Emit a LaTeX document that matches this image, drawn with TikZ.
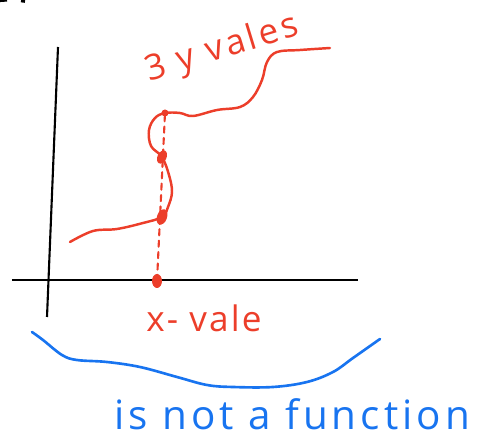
\documentclass[tikz,border=0pt]{standalone}
\usepackage{fontspec}
\setmainfont{Open Sans}
\usepackage{tikz}
\usetikzlibrary{calc,positioning}
\definecolor{redInk}{RGB}{236,62,42}
\definecolor{blueInk}{RGB}{24,116,240}
\tikzset{
  penRed/.style={redInk, line width=1.4pt, line cap=round, line join=round},
  penBlue/.style={blueInk, line width=1.5pt, line cap=round, line join=round},
  axisPen/.style={black, line width=1.2pt},
  inkDot/.style={fill=redInk}
}

\begin{document}
\begin{tikzpicture}[x=0.02cm, y=-0.02cm]
  \useasboundingbox (0,0) rectangle (488,439);
  % cut-off marks at the top left
  \draw[black, line width=1.2pt] (0,1) -- (7,0.5);
  \draw[black, line width=1.5pt] (21,1) -- (25,1.5);
  % axes
  \draw[axisPen] (58,47) -- (47,317);
  \draw[axisPen] (12,280) -- (358,280);
  % points on one vertical line
  \coordinate (xVal) at (157,281);
  \coordinate (yLow) at (162,217);
  \coordinate (yMid) at (162,157);
  \coordinate (yTop) at (165,113);
  % dashed vertical line through the points
  \draw[penRed, line width=1.2pt, dash pattern=on 3.5pt off 3pt] (xVal) -- (yTop);
  % the curve
  \draw[penRed] plot[smooth, tension=0.6] coordinates {
    (70,242) (93,231) (117,229) (143,223) (yLow) (168,207) (172,192)
    (169,175) (yMid) (151,146) (149,130) (155,118) (yTop) (180,113)
    (193,116) (217,110) (240,107) (253,97) (262,80) (267,62) (277,52)
    (300,50) (330,48)};
  % dots
  \fill[inkDot] (xVal) ellipse [x radius=5, y radius=7];
  \fill[inkDot, rotate around={-20:(yLow)}] (yLow) ellipse [x radius=5, y radius=8];
  \fill[inkDot, rotate around={-25:(yMid)}] (yMid) ellipse [x radius=4.5, y radius=7];
  \fill[inkDot] (yTop) circle [radius=3.5];
  % labels
  \node[redInk, font=\fontsize{20}{24}\selectfont\addfontfeature{LetterSpace=9},
    anchor=base, rotate=17, inner sep=0pt]
    (yLabel) at (225,58) {3 y vales};
  \node[redInk, font=\fontsize{20}{24}\selectfont\addfontfeature{LetterSpace=6},
    anchor=base, inner sep=0pt]
    (xLabel) at (204,332) {x- vale};
  % blue brace
  \draw[penBlue] plot[smooth, tension=0.6] coordinates {
    (32,332) (43,340) (62,355) (77,360) (107,362) (140,367) (177,377)
    (207,385) (233,387) (273,387) (307,382) (333,372) (353,358) (380,339)};
  \node[blueInk, font=\fontsize{23}{27}\selectfont\addfontfeature{LetterSpace=10},
    anchor=base, inner sep=0pt]
    (verdict) at (292,430) {is not a function};
\end{tikzpicture}
\end{document}
